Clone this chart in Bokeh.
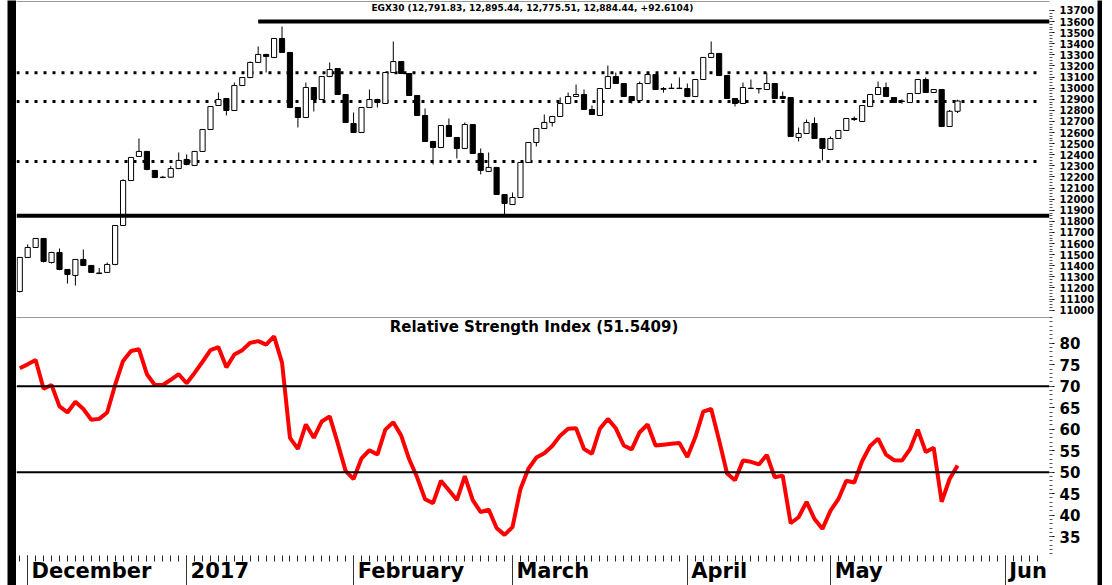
import numpy as np
from bokeh.plotting import figure
from bokeh.layouts import column, row
from bokeh.models import ColumnDataSource, Range1d, LinearAxis, FixedTicker, Span, Label
from bokeh.embed import file_html
from bokeh.resources import INLINE

# ---------------- data (trading-day index 0..118, 30 Nov 2016 .. late May 2017) ----------------
opens = [11168, 11475, 11565, 11646, 11430, 11520, 11367, 11313, 11457, 11403,
         11335, 11340, 11412, 11763, 12168, 12385, 12430, 12259, 12195, 12198,
         12276, 12358, 12304, 12430, 12628, 12844, 12907, 12799, 13024, 13096,
         13232, 13304, 13277, 13448, 13322, 12826, 12736, 13006, 12898, 13105,
         13177, 12943, 12682, 12601, 12826, 12898, 12862, 13141, 13240, 13132,
         12934, 12754, 12520, 12466, 12664, 12556, 12457, 12673, 12412, 12250,
         12286, 12042, 11952, 12015, 12331, 12511, 12637, 12691, 12745, 12862,
         12925, 12943, 12808, 12754, 12997, 13105, 13042, 12925, 12889, 13042,
         13123, 12997, 12997, 12997, 12997, 12925, 13078, 13277, 13313, 13114,
         12907, 12862, 12997, 12997, 12988, 13042, 12925, 12916, 12556, 12592,
         12682, 12547, 12448, 12547, 12619, 12718, 12700, 12835, 12943, 13006,
         12916, 12880, 12871, 12952, 13078, 12961, 12988, 12655, 12791.83]
highs = [11480, 11592, 11650, 11650, 11525, 11556, 11370, 11460, 11547, 11405,
         11380, 11430, 11765, 12180, 12380, 12547, 12435, 12262, 12210, 12300,
         12421, 12403, 12435, 12632, 12840, 12961, 12910, 13051, 13100, 13240,
         13376, 13310, 13452, 13556, 13325, 12830, 13051, 13010, 13110, 13232,
         13180, 12945, 12781, 12830, 12988, 12905, 13145, 13421, 13245, 13135,
         12938, 12817, 12525, 12668, 12727, 12560, 12691, 12676, 12457, 12421,
         12290, 12045, 12060, 12335, 12515, 12640, 12763, 12750, 12916, 12961,
         13033, 12988, 12844, 13000, 13204, 13141, 13045, 12928, 13060, 13127,
         13127, 13010, 13042, 13096, 13042, 13082, 13280, 13421, 13316, 13118,
         12910, 13051, 13078, 13000, 13141, 13045, 12970, 12920, 12645, 12718,
         12736, 12550, 12565, 12622, 12730, 12745, 12848, 12947, 13060, 13051,
         12920, 12900, 12956, 13082, 13096, 12992, 12992, 12803, 12895.44]
lows = [11160, 11470, 11560, 11430, 11420, 11360, 11240, 11222, 11400, 11335,
        11325, 11335, 11405, 11760, 12165, 12380, 12260, 12190, 12190, 12195,
        12270, 12305, 12300, 12428, 12625, 12840, 12754, 12795, 13020, 13090,
        13230, 13141, 13270, 13318, 12820, 12646, 12730, 12790, 12895, 13100,
        12940, 12688, 12598, 12598, 12822, 12826, 12858, 13138, 13128, 12930,
        12750, 12516, 12313, 12462, 12560, 12367, 12452, 12408, 12223, 12246,
        12038, 11853, 11948, 12010, 12328, 12475, 12634, 12655, 12742, 12858,
        12920, 12805, 12760, 12750, 12994, 13040, 12922, 12862, 12886, 13038,
        12985, 12960, 12995, 12995, 12920, 12920, 13075, 13274, 13110, 12904,
        12835, 12858, 12994, 12952, 12985, 12904, 12904, 12560, 12520, 12588,
        12543, 12349, 12444, 12544, 12616, 12705, 12697, 12832, 12940, 12922,
        12868, 12860, 12868, 12949, 12958, 12958, 12650, 12652, 12775.51]
closes = [11475, 11565, 11646, 11439, 11520, 11367, 11322, 11457, 11403, 11340,
          11330, 11412, 11763, 12168, 12376, 12430, 12268, 12195, 12198, 12276,
          12349, 12313, 12430, 12628, 12835, 12898, 12799, 13024, 13096, 13232,
          13304, 13286, 13448, 13322, 12826, 12736, 13006, 12898, 13105, 13168,
          12943, 12691, 12601, 12826, 12898, 12871, 13141, 13240, 13132, 12934,
          12754, 12520, 12466, 12664, 12565, 12457, 12673, 12412, 12259, 12286,
          12042, 11961, 12015, 12331, 12511, 12637, 12691, 12745, 12862, 12925,
          12943, 12808, 12763, 12997, 13105, 13042, 12925, 12889, 13042, 13123,
          12988, 12990, 13000, 13000, 12925, 13078, 13277, 13313, 13114, 12907,
          12862, 13006, 13000, 12994, 13042, 12907, 12907, 12565, 12592, 12691,
          12547, 12457, 12547, 12619, 12727, 12727, 12844, 12943, 13006, 12925,
          12871, 12884, 12952, 13078, 12961, 12988, 12655, 12792, 12884.44]
rsi = [74.2, 75.1, 76.1, 69.4, 70.3, 65.3, 63.9, 66.4, 64.7, 62.2,
       62.4, 63.9, 70.3, 75.9, 78.2, 78.6, 72.8, 70.3, 70.3, 71.5,
       72.8, 70.7, 73.1, 75.7, 78.4, 79.1, 74.4, 77.4, 78.4, 80.1,
       80.5, 79.7, 81.6, 75.5, 58.0, 55.4, 61.1, 58.0, 61.8, 63.0,
       56.8, 50.3, 48.4, 53.2, 55.1, 54.1, 59.9, 61.6, 58.5, 53.0,
       48.8, 43.7, 42.8, 48.0, 45.8, 43.5, 49.1, 43.5, 40.7, 41.3,
       37.0, 35.4, 37.2, 46.1, 50.8, 53.4, 54.4, 56.1, 58.5, 60.1,
       60.2, 55.4, 54.3, 60.1, 62.4, 60.2, 56.2, 55.3, 59.3, 61.1,
       56.2, 56.4, 56.6, 56.8, 53.5, 58.1, 64.1, 64.7, 57.4, 49.7,
       48.1, 52.7, 52.4, 51.8, 54.0, 48.8, 49.2, 38.1, 39.5, 43.1,
       39.1, 36.8, 41.0, 43.7, 48.0, 47.6, 52.6, 56.1, 57.8, 54.1,
       52.8, 52.7, 55.3, 59.9, 54.7, 55.7, 43.1, 48.4, 51.54]

month_labels = ["December", "2017", "February", "March", "April", "May", "Jun"]
month_starts = [1, 21, 42, 62, 84, 102, 124]      # trading-day index of first session
n_day_ticks = 129

price_ticks = list(range(11000, 13701, 100))
rsi_ticks = list(range(35, 81, 5))

resistance_level = 13600
resistance_from = 30
support_level = 11850
dotted_levels = [13140, 12880, 12340]
rsi_levels = [70, 50]

title_text = "EGX30 (12,791.83, 12,895.44, 12,775.51, 12,884.44, +92.6104)"
rsi_title = "Relative Strength Index (51.5409)"

# ---------------- layout constants ----------------
FONT = "DejaVu Sans"
W = 1081
FRAME_W = 1036
XR = Range1d(-0.41, 129.57)
px_per_idx = FRAME_W / (XR.end - XR.start)


def bar(width, left_white):
    b = figure(width=width, height=585, x_range=Range1d(0, 1), y_range=Range1d(0, 1),
               x_axis_location=None, y_axis_location=None,
               output_backend="svg", toolbar_location=None,
               min_border_left=left_white, min_border_right=0, min_border_top=0, min_border_bottom=0,
               background_fill_color="black", border_fill_color="white", outline_line_color=None)
    b.grid.visible = False
    return b


idx = list(range(len(closes)))
src = ColumnDataSource(dict(
    x=idx, h=highs, l=lows,
    top=[max(o, c) for o, c in zip(opens, closes)],
    bottom=[min(o, c) for o, c in zip(opens, closes)],
    color=["white" if c >= o else "black" for o, c in zip(opens, closes)],
))

# ---------------- price panel ----------------
p1 = figure(width=W, height=317, x_range=XR, y_range=Range1d(10943, 13781),
            y_axis_location="right", x_axis_location=None,
            output_backend="svg", toolbar_location=None,
            min_border_left=0, min_border_right=W - FRAME_W, min_border_top=1, min_border_bottom=1,
            background_fill_color="white", border_fill_color="white", outline_line_color=None)
p1.grid.visible = False

ya = p1.yaxis[0]
ya.ticker = FixedTicker(ticks=price_ticks, minor_ticks=list(range(11000, 13701, 25)))
ya.axis_line_color = None
ya.major_tick_out = 5
ya.major_tick_in = 0
ya.minor_tick_out = 3
ya.minor_tick_in = 0
ya.major_tick_line_color = "black"
ya.minor_tick_line_color = "#555555"
ya.major_label_standoff = 5
ya.major_label_text_font = FONT
ya.major_label_text_font_style = "bold"
ya.major_label_text_font_size = "10px"
ya.major_label_text_color = "black"

top_line = LinearAxis(ticker=FixedTicker(ticks=[]), axis_line_color="#999999",
                      major_tick_out=0, major_tick_in=0, minor_tick_out=0, minor_tick_in=0,
                      major_label_text_font_size="0px", major_label_standoff=0)
p1.add_layout(top_line, "above")

# support / resistance lines
p1.segment(x0=[resistance_from], x1=[XR.end], y0=[resistance_level], y1=[resistance_level],
           line_color="black", line_width=4)
p1.add_layout(Span(location=support_level, dimension="width", line_color="black", line_width=4))
for lvl in dotted_levels:
    p1.segment(x0=[XR.start], x1=[128.4], y0=[lvl], y1=[lvl],
               line_color="black", line_width=3, line_dash="3 6")

# candles
p1.segment(x0="x", y0="h", x1="x", y1="l", source=src, line_color="black", line_width=1)
p1.vbar(x="x", width=0.65, top="top", bottom="bottom", source=src,
        fill_color="color", line_color="black", line_width=1)

p1.add_layout(Label(x=64.5, y=13718, text=title_text, text_font=FONT, text_font_style="bold",
                    text_font_size="9px", text_align="center", text_baseline="middle",
                    text_color="black"))

# ---------------- RSI panel ----------------
p2 = figure(width=W, height=268, x_range=XR, y_range=Range1d(30.6, 86.0),
            y_axis_location="right", x_axis_location=None,
            output_backend="svg", toolbar_location=None,
            min_border_left=0, min_border_right=W - FRAME_W, min_border_top=0, min_border_bottom=0,
            background_fill_color="white", border_fill_color="white", outline_line_color=None)
p2.grid.visible = False

ra = p2.yaxis[0]
ra.ticker = FixedTicker(ticks=rsi_ticks, minor_ticks=list(range(31, 87)))
ra.axis_line_color = None
ra.major_tick_out = 5
ra.major_tick_in = 0
ra.minor_tick_out = 3
ra.minor_tick_in = 0
ra.major_tick_line_color = "black"
ra.minor_tick_line_color = "#555555"
ra.major_label_standoff = 5
ra.major_label_text_font = FONT
ra.major_label_text_font_style = "bold"
ra.major_label_text_font_size = "15px"
ra.major_label_text_color = "black"

sep_line = LinearAxis(ticker=FixedTicker(ticks=[]), axis_line_color="#999999",
                      major_tick_out=0, major_tick_in=0, minor_tick_out=0, minor_tick_in=0,
                      major_label_text_font_size="0px", major_label_standoff=0)
p2.add_layout(sep_line, "above")

for lvl in rsi_levels:
    p2.add_layout(Span(location=lvl, dimension="width", line_color="black", line_width=2))

p2.line(idx, rsi, line_color="#FF0000", line_width=4)

p2.add_layout(Label(x=64.7, y=83.7, text=rsi_title, text_font=FONT, text_font_style="bold",
                    text_font_size="15px", text_align="center", text_baseline="middle",
                    text_color="black"))

# daily ticks
day_axis = LinearAxis(ticker=FixedTicker(ticks=[], minor_ticks=list(range(n_day_ticks))),
                      axis_line_color=None, major_tick_out=6, major_tick_in=0,
                      major_tick_line_color=None, minor_tick_out=6, minor_tick_in=0,
                      minor_tick_line_color="#222222", minor_tick_line_width=1,
                      major_label_text_font_size="0px", major_label_standoff=0)
p2.add_layout(day_axis, "below")

# month labels (left-aligned after each month separator)
adv = {"D": .83, "e": .678, "c": .593, "m": 1.042, "b": .716, "r": .493, "2": .696, "0": .696,
       "1": .696, "7": .696, "F": .683, "u": .712, "a": .675, "y": .652, "M": .995, "h": .712,
       "A": .774, "p": .716, "i": .343, "l": .343, "J": .372, "n": .712}
MFS = 21
label_pos = [round(s + (4 + MFS * sum(adv.get(ch, .65) for ch in m) / 2) / px_per_idx, 3)
             for s, m in zip(month_starts, month_labels)]
month_axis = LinearAxis(ticker=FixedTicker(ticks=label_pos),
                        major_label_overrides={p: m for p, m in zip(label_pos, month_labels)},
                        axis_line_color=None, major_tick_out=0, major_tick_in=0,
                        major_tick_line_color=None, minor_tick_out=0, minor_tick_in=0,
                        minor_tick_line_color=None,
                        major_label_standoff=-3, major_label_text_font=FONT,
                        major_label_text_font_style="bold",
                        major_label_text_font_size=f"{MFS}px", major_label_text_color="black")
p2.add_layout(month_axis, "below")

# month separators: ticks reaching up through the label band
sep_axis = LinearAxis(ticker=FixedTicker(ticks=[], minor_ticks=month_starts),
                      axis_line_color=None, major_tick_out=0, major_tick_in=0,
                      major_tick_line_color=None, minor_tick_out=0, minor_tick_in=30,
                      minor_tick_line_color="#333333", minor_tick_line_width=1,
                      major_label_text_font_size="0px", major_label_standoff=0)
p2.add_layout(sep_axis, "below")

layout = row(bar(16, 7), column(p1, p2), bar(5, 0))

open("out.html", "w").write(file_html(layout, INLINE))
